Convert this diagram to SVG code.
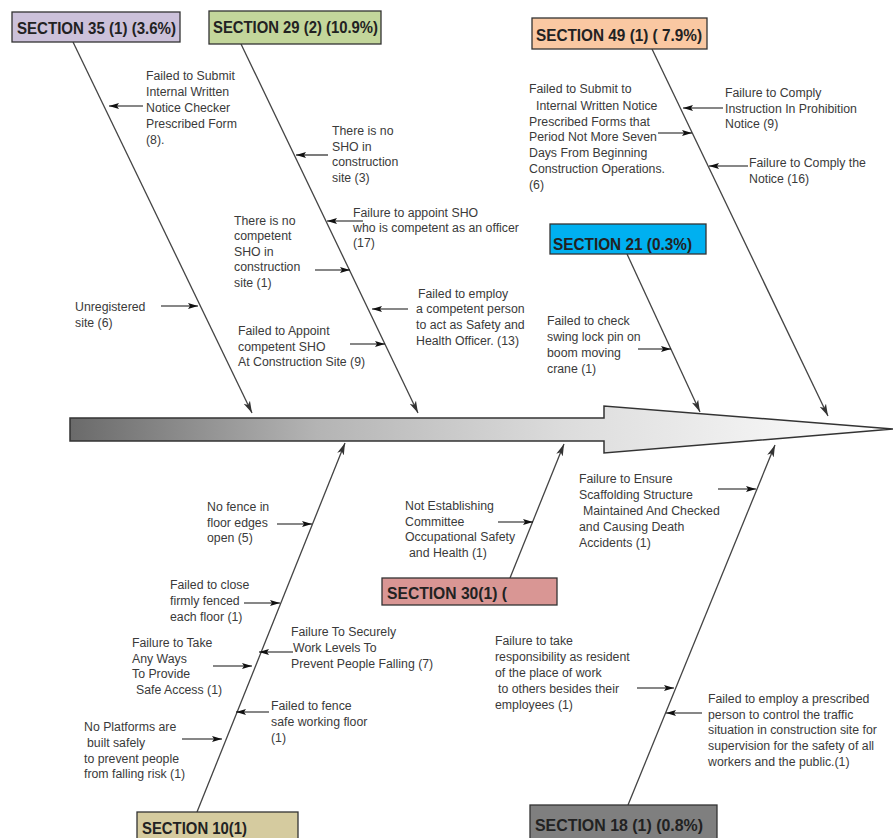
<svg xmlns="http://www.w3.org/2000/svg" width="893" height="838" viewBox="0 0 893 838">
<defs>
<linearGradient id="spine" gradientUnits="userSpaceOnUse" x1="70" y1="0" x2="893" y2="0">
<stop offset="0" stop-color="#6a6a6a"/>
<stop offset="0.3" stop-color="#b4b4b4"/>
<stop offset="0.6" stop-color="#dcdcdc"/>
<stop offset="0.8" stop-color="#eeeeee"/>
<stop offset="1" stop-color="#ffffff"/>
</linearGradient>
<marker id="big" markerUnits="userSpaceOnUse" markerWidth="12" markerHeight="8" refX="12" refY="4" orient="auto">
<path d="M0,0.5 L12,4 L0,7.5 L3,4 z" fill="#333"/>
</marker>
<marker id="sm" markerUnits="userSpaceOnUse" markerWidth="10" markerHeight="7" refX="10" refY="3.5" orient="auto">
<path d="M0,0.5 L10,3.5 L0,6.5 L2,3.5 z" fill="#111"/>
</marker>
</defs>
<style>
.bone{stroke:#444;stroke-width:1.3;fill:none;marker-end:url(#big)}
.ar{stroke:#111;stroke-width:1.1;fill:none;marker-end:url(#sm)}
.t{font-family:"Liberation Sans",Arial,sans-serif;font-size:12.3px;fill:#3a3a3a}
.bx{stroke:#333;stroke-width:1.3}
.bt{font-family:"Liberation Sans",Arial,sans-serif;font-size:17px;font-weight:bold;fill:#222}
</style>
<rect width="893" height="838" fill="#ffffff"/>

<g id="spine-arrow">
<polygon points="70,418 604,418 604,406 893,429 604,453 604,441 70,441" fill="url(#spine)" stroke="#333" stroke-width="1.5" stroke-linejoin="miter"/>
</g>

<g id="connectors">
<line class="bone" x1="73" y1="42" x2="252" y2="413"/>
<line class="bone" x1="241" y1="44" x2="418" y2="413"/>
<line class="bone" x1="652" y1="49" x2="828" y2="416"/>
<line class="bone" x1="627" y1="254" x2="700" y2="412"/>
<line class="bone" x1="197" y1="812" x2="345" y2="443"/>
<line class="bone" x1="510" y1="578" x2="564" y2="444"/>
<line class="bone" x1="628" y1="805" x2="775" y2="445"/>

<line class="ar" x1="143" y1="106" x2="109" y2="106"/>
<line class="ar" x1="328" y1="155" x2="296" y2="155"/>
<line class="ar" x1="658" y1="133" x2="692" y2="133"/>
<line class="ar" x1="723" y1="108" x2="683" y2="108"/>
<line class="ar" x1="748" y1="166" x2="709" y2="166"/>
<line class="ar" x1="315" y1="270" x2="350" y2="270"/>
<line class="ar" x1="363" y1="221" x2="327" y2="221"/>
<line class="ar" x1="161" y1="306" x2="198" y2="306"/>
<line class="ar" x1="350" y1="344" x2="385" y2="344"/>
<line class="ar" x1="408" y1="309" x2="372" y2="309"/>
<line class="ar" x1="638" y1="349" x2="671" y2="349"/>
<line class="ar" x1="277" y1="524" x2="312" y2="524"/>
<line class="ar" x1="498" y1="522" x2="533" y2="522"/>
<line class="ar" x1="718" y1="489" x2="756" y2="489"/>
<line class="ar" x1="244" y1="603" x2="280" y2="603"/>
<line class="ar" x1="293" y1="652" x2="259" y2="652"/>
<line class="ar" x1="213" y1="666" x2="252" y2="666"/>
<line class="ar" x1="269" y1="712" x2="236" y2="712"/>
<line class="ar" x1="182" y1="739" x2="222" y2="739"/>
<line class="ar" x1="637" y1="688" x2="674" y2="688"/>
<line class="ar" x1="702" y1="713" x2="666" y2="713"/>
</g>

<g id="s35">
<rect class="bx" x="12" y="12" width="168" height="30" fill="#ccc1da"/>
<text class="bt" x="17" y="34" textLength="159" lengthAdjust="spacingAndGlyphs" fill="#1f2433">SECTION 35 (1) (3.6%)</text>
</g>
<g id="s29">
<rect class="bx" x="209" y="11" width="172" height="33" fill="#c3d69b"/>
<text class="bt" x="213" y="33" textLength="165" lengthAdjust="spacingAndGlyphs">SECTION 29 (2) (10.9%)</text>
</g>
<g id="s49">
<rect class="bx" x="532" y="18" width="175" height="31" fill="#fac8a2"/>
<text class="bt" x="536" y="41" textLength="166" lengthAdjust="spacingAndGlyphs">SECTION 49 (1) ( 7.9%)</text>
</g>
<g id="s21">
<rect class="bx" x="550" y="224" width="156" height="30" fill="#00b0f0"/>
<text class="bt" x="553" y="250" textLength="139" lengthAdjust="spacingAndGlyphs" fill="#0d2340">SECTION 21 (0.3%)</text>
</g>
<g id="s30">
<rect class="bx" x="382" y="578" width="175" height="27" fill="#d99694"/>
<text class="bt" x="387" y="599" textLength="120" lengthAdjust="spacingAndGlyphs">SECTION 30(1) (</text>
</g>
<g id="s10">
<rect class="bx" x="137" y="812" width="161" height="30" fill="#d5cb9f"/>
<text class="bt" x="142" y="834" textLength="105" lengthAdjust="spacingAndGlyphs">SECTION 10(1)</text>
</g>
<g id="s18">
<rect class="bx" x="530" y="805" width="187" height="37" fill="#7f7f7f"/>
<text class="bt" x="535" y="831" textLength="168" lengthAdjust="spacingAndGlyphs">SECTION 18 (1) (0.8%)</text>
</g>

<g id="c1"><text class="t"><tspan x="146" y="80">Failed to Submit</tspan><tspan x="146" y="96">Internal Written</tspan><tspan x="146" y="112">Notice Checker</tspan><tspan x="146" y="128">Prescribed Form</tspan><tspan x="146" y="144">(8).</tspan></text></g>
<g id="c2"><text class="t"><tspan x="332" y="135">There is no</tspan><tspan x="332" y="150.5">SHO in</tspan><tspan x="332" y="166">construction</tspan><tspan x="332" y="182">site (3)</tspan></text></g>
<g id="c3"><text class="t"><tspan x="529" y="93">Failed to Submit to</tspan><tspan x="536" y="110">Internal Written Notice</tspan><tspan x="529" y="126">Prescribed Forms that</tspan><tspan x="529" y="141">Period Not More Seven</tspan><tspan x="529" y="157">Days From Beginning</tspan><tspan x="529" y="173">Construction Operations.</tspan><tspan x="529" y="189">(6)</tspan></text></g>
<g id="c4"><text class="t"><tspan x="725" y="97">Failure to Comply</tspan><tspan x="725" y="113">Instruction In Prohibition</tspan><tspan x="725" y="128">Notice (9)</tspan></text></g>
<g id="c5"><text class="t"><tspan x="749" y="167">Failure to Comply the</tspan><tspan x="749" y="183">Notice (16)</tspan></text></g>
<g id="c6"><text class="t"><tspan x="234" y="225">There is no</tspan><tspan x="234" y="240">competent</tspan><tspan x="234" y="256">SHO in</tspan><tspan x="234" y="271">construction</tspan><tspan x="234" y="287">site (1)</tspan></text></g>
<g id="c7"><text class="t"><tspan x="353" y="217">Failure to appoint SHO</tspan><tspan x="353" y="232">who is competent as an officer</tspan><tspan x="353" y="247">(17)</tspan></text></g>
<g id="c8"><text class="t"><tspan x="75" y="311">Unregistered</tspan><tspan x="75" y="327">site (6)</tspan></text></g>
<g id="c9"><text class="t"><tspan x="238" y="335">Failed to Appoint</tspan><tspan x="238" y="351">competent SHO</tspan><tspan x="238" y="366">At Construction Site (9)</tspan></text></g>
<g id="c10"><text class="t"><tspan x="418" y="298">Failed to employ</tspan><tspan x="416" y="313">a competent person</tspan><tspan x="416" y="329">to act as Safety and</tspan><tspan x="416" y="345">Health Officer. (13)</tspan></text></g>
<g id="c11"><text class="t"><tspan x="547" y="325">Failed to check</tspan><tspan x="547" y="341">swing lock pin on</tspan><tspan x="547" y="357">boom moving</tspan><tspan x="547" y="373">crane (1)</tspan></text></g>
<g id="c12"><text class="t"><tspan x="207" y="511">No fence in</tspan><tspan x="207" y="527">floor edges</tspan><tspan x="207" y="542">open (5)</tspan></text></g>
<g id="c13"><text class="t"><tspan x="405" y="510">Not Establishing</tspan><tspan x="405" y="526">Committee</tspan><tspan x="405" y="541">Occupational Safety</tspan><tspan x="409" y="557">and Health (1)</tspan></text></g>
<g id="c14"><text class="t"><tspan x="579" y="483">Failure to Ensure</tspan><tspan x="579" y="499">Scaffolding Structure</tspan><tspan x="583" y="515">Maintained And Checked</tspan><tspan x="579" y="531">and Causing Death</tspan><tspan x="579" y="547">Accidents (1)</tspan></text></g>
<g id="c15"><text class="t"><tspan x="170" y="589">Failed to close</tspan><tspan x="170" y="605">firmly fenced</tspan><tspan x="170" y="621">each floor (1)</tspan></text></g>
<g id="c16"><text class="t"><tspan x="291" y="636">Failure To Securely</tspan><tspan x="293" y="652">Work Levels To</tspan><tspan x="291" y="668">Prevent People Falling (7)</tspan></text></g>
<g id="c17"><text class="t"><tspan x="132" y="647">Failure to Take</tspan><tspan x="132" y="663">Any Ways</tspan><tspan x="132" y="678">To Provide</tspan><tspan x="136" y="694">Safe Access (1)</tspan></text></g>
<g id="c18"><text class="t"><tspan x="271" y="710">Failed to fence</tspan><tspan x="271" y="726">safe working floor</tspan><tspan x="271" y="742">(1)</tspan></text></g>
<g id="c19"><text class="t"><tspan x="84" y="731">No Platforms are</tspan><tspan x="87" y="747">built safely</tspan><tspan x="84" y="763">to prevent people</tspan><tspan x="84" y="778">from falling risk (1)</tspan></text></g>
<g id="c20"><text class="t"><tspan x="495" y="645">Failure to take</tspan><tspan x="495" y="661">responsibility as resident</tspan><tspan x="495" y="677">of the place of work</tspan><tspan x="498" y="693">to others besides their</tspan><tspan x="495" y="709">employees (1)</tspan></text></g>
<g id="c21"><text class="t"><tspan x="708" y="703">Failed to employ a prescribed</tspan><tspan x="708" y="719">person to control the traffic</tspan><tspan x="708" y="734">situation in construction site for</tspan><tspan x="708" y="750">supervision for the safety of all</tspan><tspan x="708" y="766">workers and the public.(1)</tspan></text></g>
</svg>
